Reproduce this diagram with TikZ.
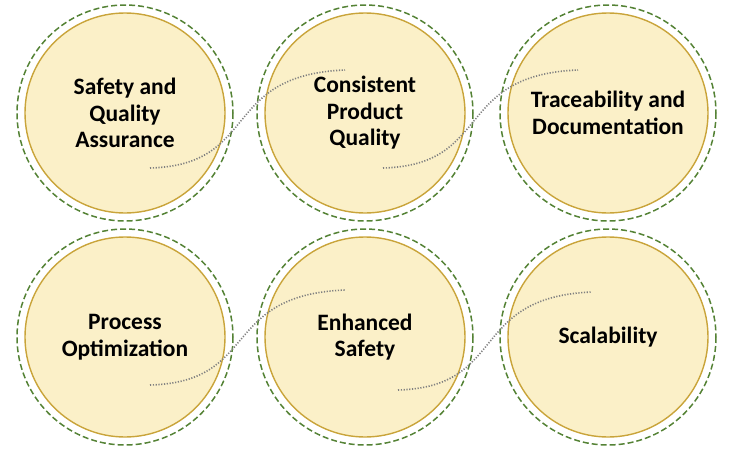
\documentclass[tikz,border=0pt]{standalone}
\usepackage{fontspec}
\setmainfont{Carlito}
\begin{document}
\begin{tikzpicture}[x=1pt,y=-1pt,
  inner/.style={circle,draw=gold,line width=1.4pt,fill=cream,minimum size=200pt,inner sep=0pt,align=center,font=\bfseries\fontsize{23.5}{26.5}\selectfont},
  outer/.style={draw=dgreen,line width=1.5pt,dash pattern=on 6pt off 3pt},
  link/.style={draw=gray,line width=1.6pt,dash pattern=on 1.2pt off 1.6pt}]
\definecolor{gold}{HTML}{C9A43A}
\definecolor{cream}{HTML}{FBF0C8}
\definecolor{dgreen}{HTML}{548235}
\useasboundingbox (0,0) rectangle (737,450);
\foreach \n/\x/\y in {a/125/113,b/365/113,c/608/113,d/125/337,e/365/337,f/608/337}{
  \draw[outer] (\x,\y) circle (108);
}
\node[inner] (a) at (125,113) {Safety and\\Quality\\Assurance};
\node[inner] (b) at (365,113) {Consistent\\Product\\Quality};
\node[inner] (c) at (608,113) {Traceability and\\Documentation};
\node[inner] (d) at (125,337) {Process\\Optimization};
\node[inner] (e) at (365,337) {Enhanced\\Safety};
\node[inner] (f) at (608,337) {Scalability};
\coordinate (a1) at (150,168); \coordinate (a2) at (345,70);
\coordinate (b1) at (383,168); \coordinate (b2) at (578,70);
\coordinate (d1) at (150,385); \coordinate (d2) at (345,290);
\coordinate (e1) at (398,390); \coordinate (e2) at (592,292);
\draw[link] (a1) .. controls (260,165) and (220,75) .. (a2);
\draw[link] (b1) .. controls (493,165) and (453,75) .. (b2);
\draw[link] (d1) .. controls (260,382) and (220,295) .. (d2);
\draw[link] (e1) .. controls (508,387) and (468,297) .. (e2);
\end{tikzpicture}
\end{document}
